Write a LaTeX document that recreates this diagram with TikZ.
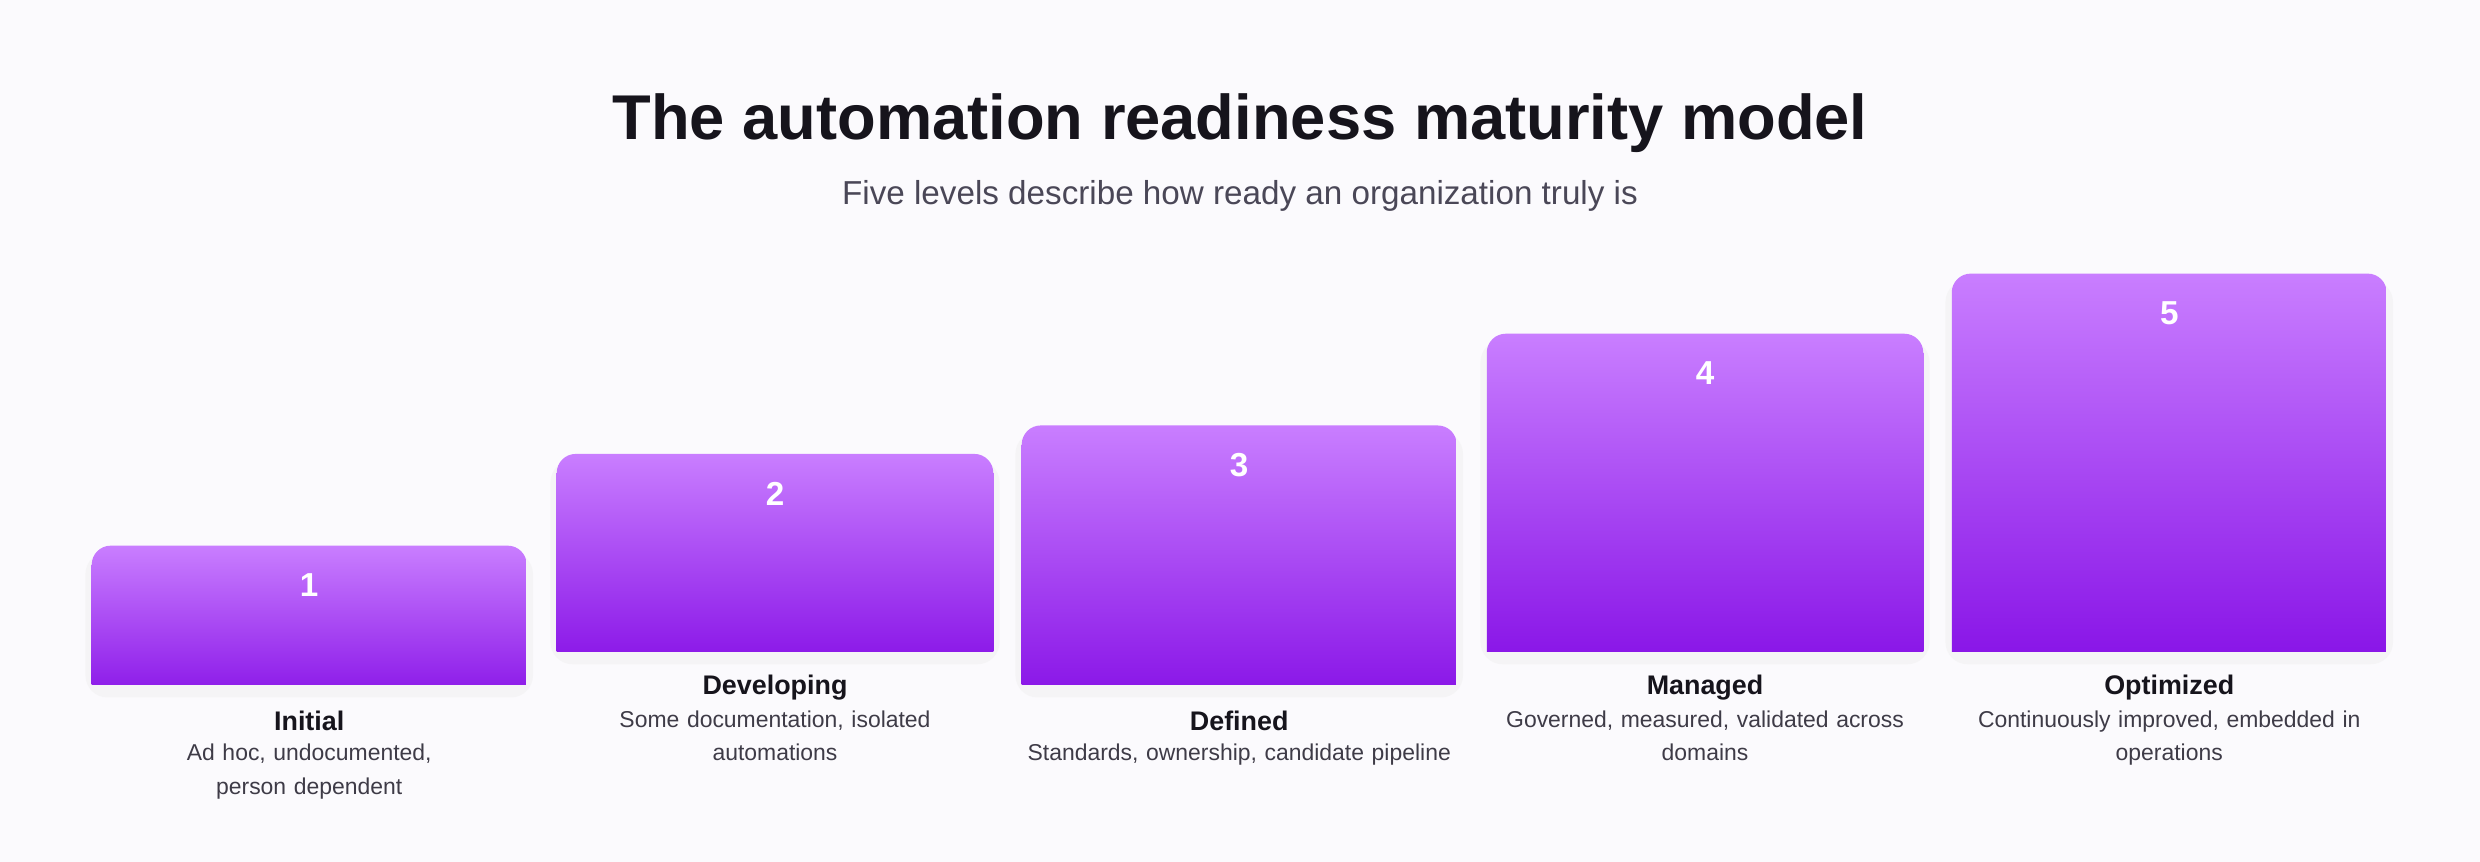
\documentclass[tikz,border=0pt]{standalone}
\usepackage{fontspec}
\setmainfont{Liberation Sans}
\definecolor{bgc}{HTML}{FBFAFD}
\definecolor{titc}{HTML}{16141C}
\definecolor{subc}{HTML}{4A4757}
\definecolor{desc}{HTML}{3E3B47}
\definecolor{topc}{HTML}{C97EFF}
\definecolor{botc}{HTML}{8610E6}
\begin{document}
\begin{tikzpicture}[x=1pt,y=1pt,
  num/.style={text=white,font=\bfseries\fontsize{21}{21}\selectfont,anchor=center},
  lab/.style={text=titc,font=\bfseries\fontsize{17}{19}\selectfont,anchor=center},
  dsc/.style={text=desc,font=\fontsize{14.5}{21}\selectfont,align=center,anchor=north,text width=270pt}]
\fill[bgc] (0,0) rectangle (1568,545);
\useasboundingbox (0,0) rectangle (1568,545);
\node[text=titc,font=\bfseries\fontsize{40}{40}\selectfont] (title) at (784,467) {The automation readiness maturity model};
\node[text=subc,font=\fontsize{21}{21}\selectfont] (sub) at (784,421) {Five levels describe how ready an organization truly is};
\foreach \i/\xa/\xb/\yt/\yb/\name/\d in {
 1/58/333/345/433/Initial/{Ad hoc, undocumented, person dependent},
 2/352/628/287/412/Developing/{Some documentation, isolated\\automations},
 3/646/921/269/433/Defined/{Standards, ownership, candidate pipeline},
 4/940/1216/211/412/Managed/{Governed, measured, validated across\\domains},
 5/1234/1509/173/412/Optimized/{Continuously improved, embedded in\\operations}}{
  \pgfmathsetmacro{\Yt}{545-\yt}
  \pgfmathsetmacro{\Yb}{545-\yb}
  \pgfmathsetmacro{\Xm}{(\xa+\xb)/2}
  \fill[black!6,opacity=0.5,rounded corners=14] (\xa-4,\Yb-8) rectangle (\xb+4,\Yt-4);
  \begin{scope}
    \clip (\xa,\Yb) rectangle (\xb,\Yt+2);
    \shade[top color=topc,bottom color=botc,rounded corners=12] (\xa,\Yb-14) rectangle (\xb,\Yt);
  \end{scope}
  \node[num] (n\i) at (\Xm,\Yt-25) {\i};
  \node[lab] (l\i) at (\Xm,\Yb-23) {\name};
  \node[dsc] (d\i) at (\Xm,\Yb-34) {\d};
}
\end{tikzpicture}
\end{document}
